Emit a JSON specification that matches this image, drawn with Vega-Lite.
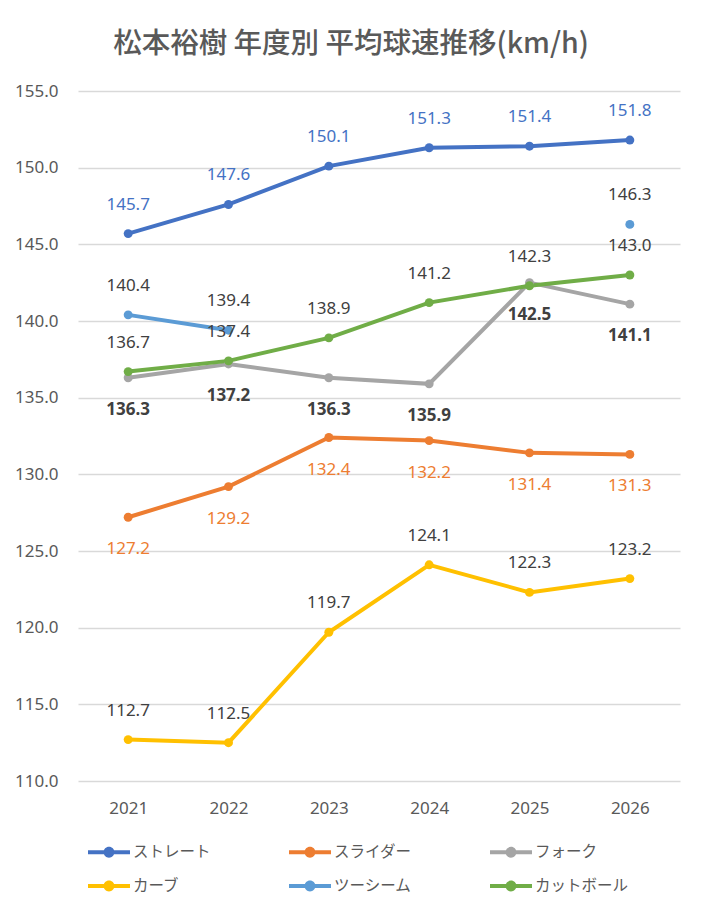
{
  "$schema": "https://vega.github.io/schema/vega-lite/v6.json",
  "width": 602,
  "height": 690,
  "autosize": "none",
  "padding": {"left": 78, "top": 91, "right": 25, "bottom": 122},
  "background": "white",
  "title": {
    "text": "松本裕樹 年度別 平均球速推移(km/h)",
    "font": "Noto Sans CJK JP",
    "fontSize": 28.5,
    "fontWeight": 500,
    "color": "#595959",
    "anchor": "middle",
    "dx": -28,
    "offset": 24
  },
  "config": {
    "view": {"stroke": null},
    "font": "Noto Sans, Noto Sans CJK JP"
  },
  "data": {
    "values": [
      {"year": "2021", "series": "ストレート", "speed": 145.7},
      {"year": "2022", "series": "ストレート", "speed": 147.6},
      {"year": "2023", "series": "ストレート", "speed": 150.1},
      {"year": "2024", "series": "ストレート", "speed": 151.3},
      {"year": "2025", "series": "ストレート", "speed": 151.4},
      {"year": "2026", "series": "ストレート", "speed": 151.8},
      {"year": "2021", "series": "スライダー", "speed": 127.2},
      {"year": "2022", "series": "スライダー", "speed": 129.2},
      {"year": "2023", "series": "スライダー", "speed": 132.4},
      {"year": "2024", "series": "スライダー", "speed": 132.2},
      {"year": "2025", "series": "スライダー", "speed": 131.4},
      {"year": "2026", "series": "スライダー", "speed": 131.3},
      {"year": "2021", "series": "フォーク", "speed": 136.3},
      {"year": "2022", "series": "フォーク", "speed": 137.2},
      {"year": "2023", "series": "フォーク", "speed": 136.3},
      {"year": "2024", "series": "フォーク", "speed": 135.9},
      {"year": "2025", "series": "フォーク", "speed": 142.5},
      {"year": "2026", "series": "フォーク", "speed": 141.1},
      {"year": "2021", "series": "カーブ", "speed": 112.7},
      {"year": "2022", "series": "カーブ", "speed": 112.5},
      {"year": "2023", "series": "カーブ", "speed": 119.7},
      {"year": "2024", "series": "カーブ", "speed": 124.1},
      {"year": "2025", "series": "カーブ", "speed": 122.3},
      {"year": "2026", "series": "カーブ", "speed": 123.2},
      {"year": "2021", "series": "ツーシーム", "speed": 140.4},
      {"year": "2022", "series": "ツーシーム", "speed": 139.4},
      {"year": "2023", "series": "ツーシーム", "speed": null},
      {"year": "2024", "series": "ツーシーム", "speed": null},
      {"year": "2025", "series": "ツーシーム", "speed": null},
      {"year": "2026", "series": "ツーシーム", "speed": 146.3},
      {"year": "2021", "series": "カットボール", "speed": 136.7},
      {"year": "2022", "series": "カットボール", "speed": 137.4},
      {"year": "2023", "series": "カットボール", "speed": 138.9},
      {"year": "2024", "series": "カットボール", "speed": 141.2},
      {"year": "2025", "series": "カットボール", "speed": 142.3},
      {"year": "2026", "series": "カットボール", "speed": 143.0}
    ]
  },
  "encoding": {
    "x": {
      "field": "year",
      "type": "ordinal",
      "scale": {"type": "point", "padding": 0.5},
      "axis": {
        "title": null,
        "labelAngle": 0,
        "domain": false,
        "ticks": false,
        "labelFontSize": 17,
        "labelColor": "#595959",
        "labelPadding": 19
      }
    },
    "y": {
      "field": "speed",
      "type": "quantitative",
      "scale": {"domain": [110, 155], "nice": false, "zero": false},
      "axis": {
        "title": null,
        "values": [110, 115, 120, 125, 130, 135, 140, 145, 150, 155],
        "format": ".1f",
        "domain": false,
        "ticks": false,
        "gridColor": "#D9D9D9",
        "gridWidth": 1.3,
        "labelFontSize": 17,
        "labelColor": "#595959",
        "labelPadding": 20
      }
    }
  },
  "layer": [
    {
      "mark": {
        "type": "line",
        "strokeWidth": 4,
        "invalid": "break-paths-show-domains",
        "point": {"filled": true, "size": 80}
      },
      "encoding": {
        "color": {
          "field": "series",
          "type": "nominal",
          "scale": {
            "domain": ["ストレート", "スライダー", "フォーク", "カーブ", "ツーシーム", "カットボール"],
            "range": ["#4472C4", "#ED7D31", "#A5A5A5", "#FFC000", "#5B9BD5", "#70AD47"]
          },
          "legend": {
            "title": null,
            "orient": "none",
            "legendX": 10,
            "legendY": 748,
            "direction": "horizontal",
            "columns": 3,
            "gridAlign": "all",
            "columnPadding": 62,
            "rowPadding": 12,
            "symbolType": "M-1,-0.154H2.23V0.154H-1Z M1.035,0A0.42,0.42 0 1,1 0.195,0A0.42,0.42 0 1,1 1.035,0Z",
            "symbolSize": 676,
            "symbolStrokeWidth": 0,
            "labelOffset": 19,
            "labelFont": "Noto Sans CJK JP",
            "labelFontSize": 15.5,
            "labelColor": "#595959",
            "encode": {
              "symbols": {
                "update": {
                  "fill": {"scale": "color", "field": "value"},
                  "stroke": {"value": "transparent"}
                }
              }
            }
          }
        }
      }
    },
    {
      "transform": [{"filter": "datum.series == 'ストレート' && isValid(datum.speed)"}],
      "mark": {"type": "text", "dy": -29, "fontSize": 17, "color": "#4472C4"},
      "encoding": {"text": {"field": "speed", "type": "quantitative", "format": ".1f"}}
    },
    {
      "transform": [{"filter": "indexof(['カーブ', 'ツーシーム', 'カットボール'], datum.series) >= 0 && isValid(datum.speed)"}],
      "mark": {"type": "text", "dy": -29, "fontSize": 17, "color": "#404040"},
      "encoding": {"text": {"field": "speed", "type": "quantitative", "format": ".1f"}}
    },
    {
      "transform": [{"filter": "datum.series == 'スライダー'"}],
      "mark": {"type": "text", "dy": 32, "fontSize": 17, "color": "#ED7D31"},
      "encoding": {"text": {"field": "speed", "type": "quantitative", "format": ".1f"}}
    },
    {
      "transform": [{"filter": "datum.series == 'フォーク'"}],
      "mark": {"type": "text", "dy": 32, "fontSize": 17, "fontWeight": "bold", "color": "#404040"},
      "encoding": {"text": {"field": "speed", "type": "quantitative", "format": ".1f"}}
    }
  ]
}
